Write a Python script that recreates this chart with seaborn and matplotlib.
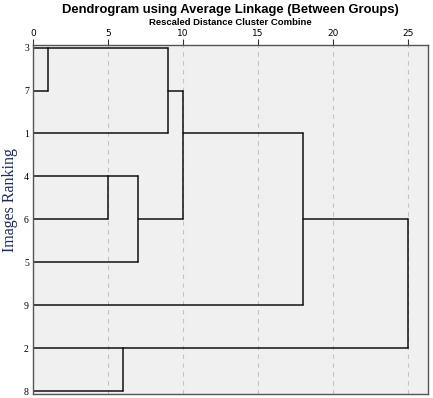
import numpy as np
import pandas as pd
import matplotlib
matplotlib.use("Agg")
import matplotlib.pyplot as plt
import seaborn as sns

# leaves, top to bottom
leaves = ['3', '7', '1', '4', '6', '5', '9', '2', '8']
# merges like a linkage table: children ids (leaves 0..8, clusters 9+) and distance
merge_a = [0, 9, 3, 11, 10, 13, 7, 14]
merge_b = [1, 2, 4, 5, 12, 6, 8, 15]
merge_dist = [1, 9, 5, 7, 10, 18, 6, 25]
x_ticks = [0, 5, 10, 15, 20, 25]

# build segments from the merge table
node_x = [0.0] * len(leaves)
node_row = list(range(len(leaves)))
rows = []
seg = 0
for a, b, d in zip(merge_a, merge_b, merge_dist):
    for c in (a, b):
        rows.append((seg, node_x[c], node_row[c]))
        rows.append((seg, d, node_row[c]))
        seg += 1
    rows.append((seg, d, node_row[a]))
    rows.append((seg, d, node_row[b]))
    seg += 1
    node_x.append(d)
    node_row.append(int(np.floor((node_row[a] + node_row[b]) / 2)))

df = pd.DataFrame(rows, columns=['seg', 'x', 'y'])

sns.set_style("white")
fig = plt.figure(figsize=(4.33, 3.98), dpi=100)
ax = fig.add_axes([0.0762, 0.0100, 0.9122, 0.8769])
ax.set_facecolor('#f0f0f0')

for t in x_ticks[1:]:
    ax.axvline(t, color='#c4c4c4', lw=0.8, ls=(0, (4, 4)), zorder=0)

sns.lineplot(data=df, x='x', y='y', units='seg', estimator=None, sort=False,
             color='#111111', lw=1.1, ax=ax)

ax.set_xlim(0, 26.33)
ax.set_ylim(8.07, -0.06)
ax.xaxis.tick_top()
ax.set_xticks(x_ticks)
ax.set_xticklabels([str(t) for t in x_ticks], fontsize=6.5, color='black')
ax.tick_params(axis='x', length=4, width=0.8, pad=1, color='#333333')
ax.set_yticks(range(len(leaves)))
ax.set_yticklabels(leaves, fontsize=7, family='Liberation Serif', color='black')
ax.tick_params(axis='y', length=0, pad=3)
ax.set_xlabel('')
ax.set_ylabel('Images Ranking', family='Liberation Serif', fontsize=11.5,
              color='#1c2b5c')
ax.yaxis.set_label_coords(-0.038, 0.556)
for s in ax.spines.values():
    s.set_color('#555555')
    s.set_linewidth(1.0)

cx = 0.0762 + 0.9122 / 2
fig.text(cx, 1 - 10 / 398, 'Dendrogram using Average Linkage (Between Groups)',
         ha='center', va='center', fontsize=9.4, fontweight='bold',
         family='Liberation Sans', color='black')
fig.text(cx, 1 - 22.5 / 398, 'Rescaled Distance Cluster Combine',
         ha='center', va='center', fontsize=6.8, fontweight='bold',
         family='Liberation Sans', color='black')

fig.savefig('out.png', dpi=100)
